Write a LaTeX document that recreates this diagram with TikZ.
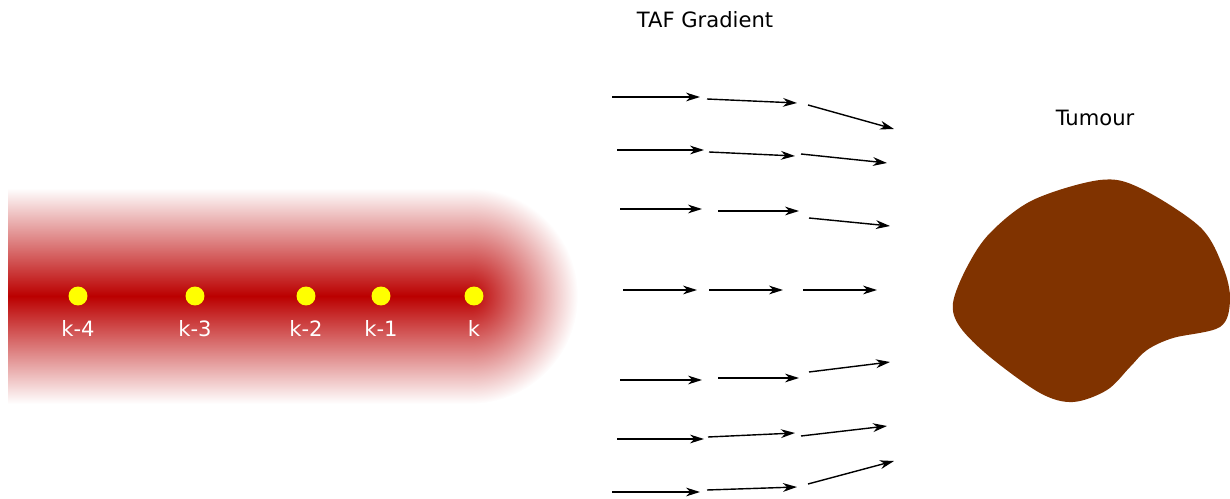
\documentclass[tikz,border=0pt]{standalone}
\usepackage{fontspec}
\setmainfont{DejaVu Sans}
\usetikzlibrary{arrows.meta,positioning}

\definecolor{vessel}{RGB}{187,0,0}
\definecolor{tumour}{RGB}{128,51,0}
\definecolor{tipcell}{RGB}{255,255,0}

% glow of the rounded sprout tip
\pgfdeclareradialshading{tipglow}{\pgfpointorigin}{color(0bp)=(vessel); color(25bp)=(white); color(50bp)=(white)}

\tikzset{
  cell/.style={circle,fill=tipcell,inner sep=0pt,minimum size=10.8pt},
  celllab/.style={text=white}
}

\begin{document}
\begin{tikzpicture}[x=0.02cm,y=-0.02cm,>={Stealth[length=8pt,width=5pt,inset=2.5pt]},
    font=\fontsize{12}{14}\selectfont]
  \useasboundingbox (0,0) rectangle (1230,499);

  % sprouting vessel
  \shade[top color=white,bottom color=white,middle color=vessel]
      (8,188) rectangle (470,404);
  \begin{scope}
    \clip (470,188) rectangle (580,404);
    \shade[shading=tipglow] (470,296) circle (108);
  \end{scope}

  \foreach \x/\n/\t in {78/c4/k-4,195/c3/k-3,306/c2/k-2,381/c1/k-1,474/c0/k}{
    \node[cell] (\n) at (\x,296) {};
    \node[celllab,below=5pt of \n] (\n-lab) {\t};
  }

  % TAF gradient field
  \foreach \xa/\ya/\xb/\yb in {
      612/97/700/97, 707/99/797/103, 808/105/894/129,
      617/150/704/150, 709/152/795/156, 801/154/887/163,
      620/209/702/209, 718/211/799/211, 809/218/890/226,
      623/290/697/290, 709/290/783/290, 803/290/877/290,
      620/380/702/380, 718/378/799/378, 809/372/890/362,
      617/439/704/439, 708/437/795/433, 801/436/887/426,
      612/492/700/492, 707/490/797/487, 808/484/894/461}
    \draw[->,line width=0.8pt] (\xa,\ya) -- (\xb,\yb);

  \node (taf) at (705,20) {TAF Gradient};

  % tumour
  \fill[tumour] plot[smooth cycle,tension=0.55] coordinates {
      (1100,180) (1140,188) (1200,227) (1223,267) (1230,300)
      (1220,327) (1173,338) (1147,350) (1130,367) (1107,390)
      (1073,402) (1040,393) (990,357) (960,327) (953,303)
      (967,267) (990,233) (1033,200)};
  \node (tumourlab) at (1095,118) {Tumour};
\end{tikzpicture}
\end{document}
